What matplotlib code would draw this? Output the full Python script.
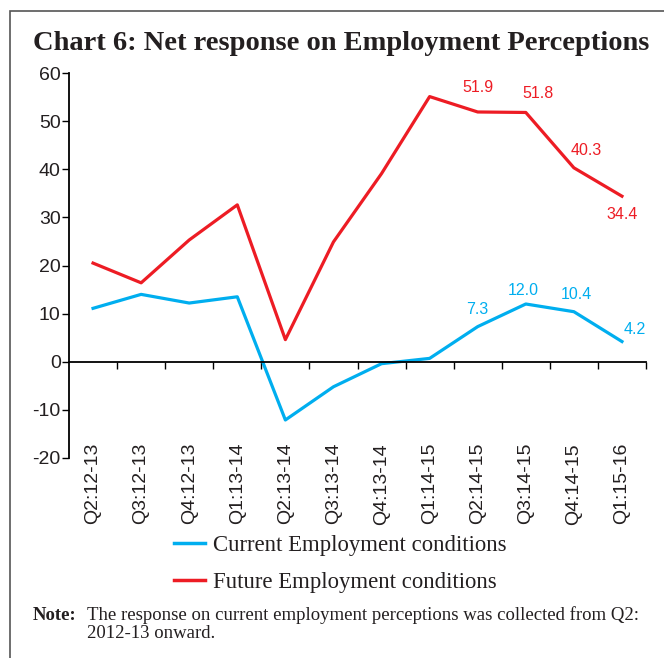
import matplotlib.pyplot as plt
from matplotlib.patches import Rectangle
from matplotlib.lines import Line2D

quarters = ["Q2:12-13", "Q3:12-13", "Q4:12-13", "Q1:13-14", "Q2:13-14", "Q3:13-14",
            "Q4:13-14", "Q1:14-15", "Q2:14-15", "Q3:14-15", "Q4:14-15", "Q1:15-16"]
current = [11.1, 14.0, 12.2, 13.5, -12.1, -5.2, -0.4, 0.7, 7.3, 12.0, 10.4, 4.2]
future = [20.5, 16.4, 25.3, 32.6, 4.6, 24.9, 39.1, 55.1, 51.9, 51.8, 40.3, 34.4]
yticks = [-20, -10, 0, 10, 20, 30, 40, 50, 60]

RED = "#ED1C24"
BLUE = "#00AEEF"
INK = "#231f20"
SERIF = "Liberation Serif"
SANS = "Liberation Sans"

fig = plt.figure(figsize=(6.64, 6.58), dpi=100)

# outer frame (right and bottom run off the page)
fig.patches.append(Rectangle((10 / 664, -0.05), 1.0, 1 - 11 / 658 + 0.05,
                             transform=fig.transFigure, fill=False,
                             edgecolor="#555555", linewidth=1.2))

fig.text(33 / 664, 1 - 44 / 658, "Chart 6: Net response on Employment Perceptions",
         fontsize=20.5, fontweight="bold", family=SERIF, va="center", ha="left",
         color=INK)

ax = fig.add_axes([69 / 664, 1 - 458 / 658, (646 - 69) / 664, (458 - 73) / 658])
x = list(range(len(quarters)))
ax.plot(x, current, color=BLUE, lw=2.3)
ax.plot(x, future, color=RED, lw=2.3)

ax.set_xlim(-0.5, len(quarters) - 0.5)
ax.set_ylim(-20, 60)
ax.set_yticks(yticks)
ax.set_yticklabels([str(v) for v in yticks], family=SANS, fontsize=14, color=INK)
ax.tick_params(axis="y", direction="out", length=5, width=1, pad=1)

for side in ["top", "right"]:
    ax.spines[side].set_visible(False)
ax.spines["left"].set_linewidth(1.3)
ax.spines["bottom"].set_position(("data", 0))
ax.spines["bottom"].set_linewidth(1.3)
ax.set_xticks([i + 0.5 for i in x])
ax.set_xticklabels([])
ax.tick_params(axis="x", direction="out", length=5, width=1)

# category labels hang from just above the bottom of the axis
for i, q in enumerate(quarters):
    ax.text(i, 0.039, q, transform=ax.get_xaxis_transform(), rotation=90,
            ha="center", va="top", family=SANS, fontsize=14, color=INK)

# data labels
lab = dict(fontsize=11.5, family=SANS, ha="center")
ax.text(8.0, 55.5, "51.9", color=RED, va="bottom", **lab)
ax.text(9.25, 54.2, "51.8", color=RED, va="bottom", **lab)
ax.text(10.25, 42.3, "40.3", color=RED, va="bottom", **lab)
ax.text(11.0, 32.1, "34.4", color=RED, va="top", **lab)
ax.text(8.0, 9.2, "7.3", color=BLUE, va="bottom", **lab)
ax.text(8.95, 13.3, "12.0", color=BLUE, va="bottom", **lab)
ax.text(10.05, 12.5, "10.4", color=BLUE, va="bottom", **lab)
ax.text(11.27, 5.2, "4.2", color=BLUE, va="bottom", **lab)

handles = [Line2D([], [], color=BLUE, lw=2.5), Line2D([], [], color=RED, lw=2.5)]
fig.legend(handles, ["Current Employment conditions", "Future Employment conditions"],
           loc="center left", bbox_to_anchor=(153 / 664, 1 - 564 / 658), frameon=False,
           prop={"family": SERIF, "size": 16.4}, handlelength=1.4, handletextpad=0.35,
           labelspacing=0.68, labelcolor=INK)

fig.text(33 / 664, 1 - 615 / 658, "Note:", fontsize=13.5, fontweight="bold",
         family=SERIF, va="center", color=INK)
fig.text(87 / 664, 1 - 615 / 658,
         "The response on current employment perceptions was collected from Q2:",
         fontsize=13.5, family=SERIF, va="center", color=INK)
fig.text(87 / 664, 1 - 633 / 658, "2012-13 onward.", fontsize=13.5, family=SERIF,
         va="center", color=INK)

fig.savefig("out.png", dpi=100)
